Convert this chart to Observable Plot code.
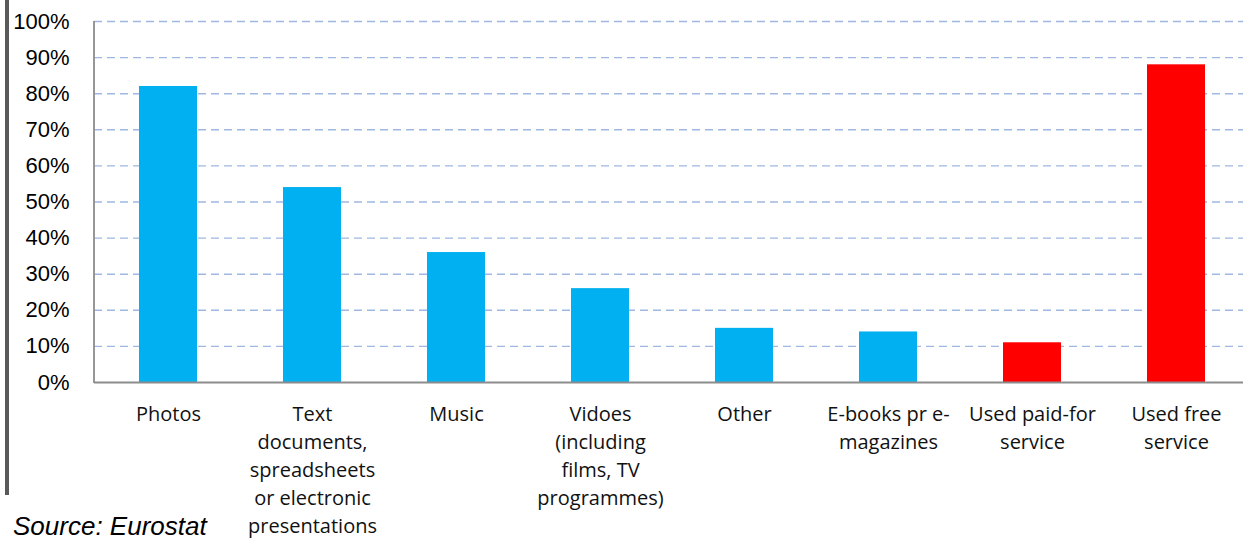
<!DOCTYPE html>
<html><head><meta charset="utf-8">
<script src="https://cdn.jsdelivr.net/npm/d3@7"></script>
<script src="https://cdn.jsdelivr.net/npm/@observablehq/plot@0.6"></script>
<style>body{margin:0;background:#fff;} #chart svg{display:block;}</style>
</head><body><div id="chart"></div>
<script>
const categories = ["Photos","Text","Music","Videos","Other","E-books","Paid","Free"];
const labels = [
  "Photos",
  "Text\ndocuments,\nspreadsheets\nor electronic\npresentations",
  "Music",
  "Vidoes\n(including\nfilms, TV\nprogrammes)",
  "Other",
  "E-books pr e-\nmagazines",
  "Used paid-for\nservice",
  "Used free\nservice"
];
const values = [82, 54, 36, 26, 15, 14, 11, 88];
const colors = ["#00B0F0","#00B0F0","#00B0F0","#00B0F0","#00B0F0","#00B0F0","#FF0000","#FF0000"];
const yTicks = [0,10,20,30,40,50,60,70,80,90,100];
const sourceText = "Source: Eurostat";

const data = categories.map((c,i)=>({category:c,label:labels[i],value:values[i],color:colors[i]}));

const chart = Plot.plot({
  width: 1243, height: 541,
  marginLeft: 94, marginRight: -6, marginTop: 21, marginBottom: 159,
  style: {background: "#fff"},
  x: {domain: categories, paddingInner: 0.6, paddingOuter: 0.3, axis: null},
  y: {domain: [0,100], axis: null},
  color: {type: "identity"},
  marks: [
    Plot.ruleY(yTicks.filter(d=>d>0), {stroke:"#9fb8e2", strokeWidth:1.4, strokeDasharray:"8,5"}),
    Plot.barY(data, {x:"category", y:"value", fill:"color"}),
    Plot.ruleY([0], {stroke:"#8c8c8c", strokeWidth:1.8}),
    Plot.axisY({ticks: yTicks, tickSize: 0, tickPadding: 25, tickFormat: d=>d+"%", fontSize: 22, fontFamily: "Liberation Sans, Arial, sans-serif", fill:"#000", label: null}),
    Plot.text(data, {x:"category", text:"label", frameAnchor:"bottom", lineAnchor:"top", dy:19, fontSize:20, lineHeight:1.4, fontFamily:"Open Sans", fill:"#111"})
  ]
});

const svg = d3.select(chart);
const y = chart.scale("y");
svg.append("line").attr("x1",94).attr("x2",94).attr("y1",y.apply(100)).attr("y2",y.apply(0)+1)
  .attr("stroke","#8c8c8c").attr("stroke-width",1.8);
svg.append("rect").attr("x",5).attr("y",0).attr("width",4).attr("height",495).attr("fill","#595959");
svg.append("text").attr("x",13).attr("y",535).attr("text-anchor","start").text(sourceText)
  .attr("font-family","Liberation Sans, Arial, sans-serif").attr("font-style","italic")
  .attr("font-size",26).attr("fill","#000");
document.getElementById("chart").appendChild(chart);
</script>
</body></html>
